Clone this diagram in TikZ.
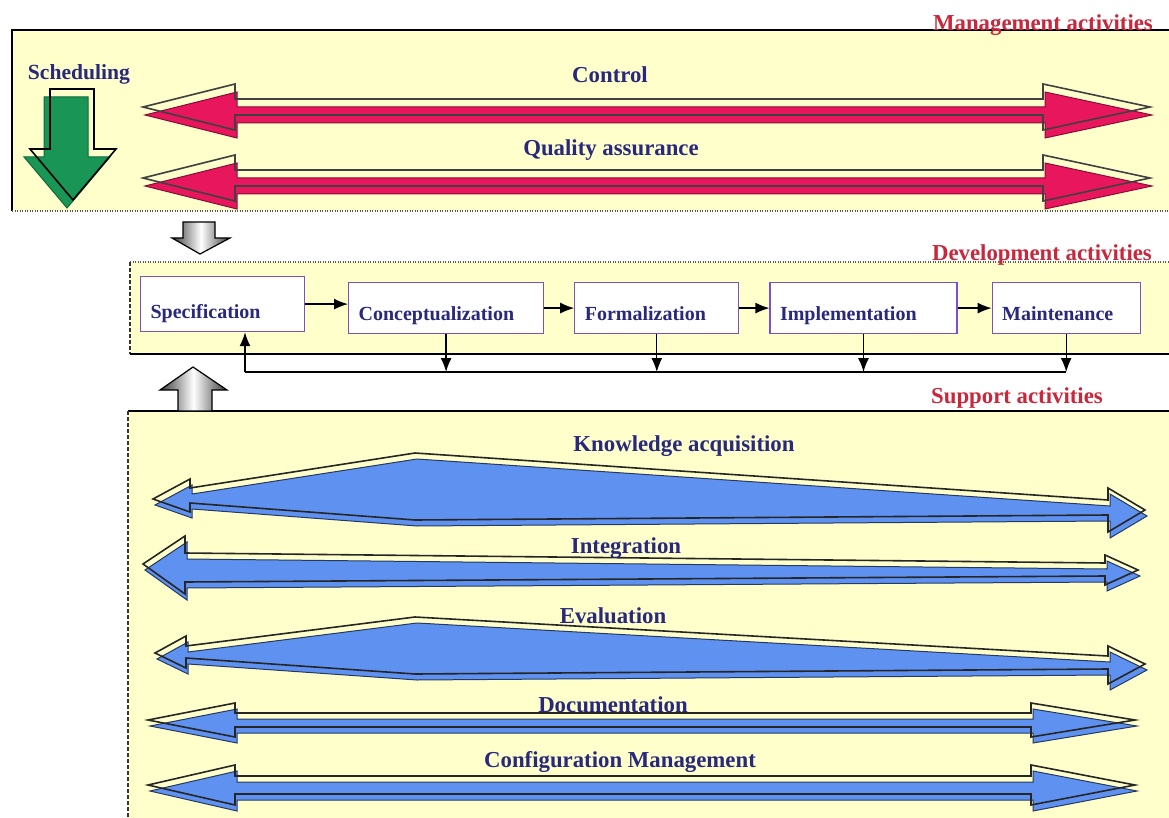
\documentclass[tikz,border=0pt]{standalone}
\usepackage{fontspec}
\setmainfont{Liberation Serif}
\usetikzlibrary{arrows.meta,positioning}

\definecolor{panelbg}{RGB}{255,255,204}
\definecolor{inkblue}{RGB}{40,40,125}
\definecolor{titlered}{RGB}{200,40,60}
\definecolor{ctrlred}{RGB}{232,22,92}
\definecolor{suppblue}{RGB}{95,145,240}
\definecolor{schedgreen}{RGB}{25,150,85}
\definecolor{boxpurple}{RGB}{125,80,195}

% filled arrow body plus its outline, drawn a little offset
\newcommand{\shadowarrow}[4][-2,-6]{%
  \fill[#2] #4;
  \draw[#3, shift={(#1)}] #4;
}

\begin{document}
\begin{tikzpicture}[
    x=1pt, y=-1pt,
    frame/.style={line width=1.5pt, black},
    dotline/.style={line width=1.5pt, black!65, dash pattern=on 1pt off 1.5pt},
    dashline/.style={line width=1.3pt, black!80, dash pattern=on 4pt off 2pt},
    actlabel/.style={font=\fontsize{22.8}{26}\selectfont\bfseries, text=inkblue, anchor=base, inner sep=0pt},
    paneltitle/.style={font=\fontsize{22.8}{26}\selectfont\bfseries, text=titlered, anchor=base east, inner sep=0pt},
    stage/.style={draw=boxpurple, line width=1.2pt, fill=white, font=\fontsize{20}{24}\selectfont\bfseries, text=inkblue,
        align=left, inner xsep=10pt, inner ysep=3pt, minimum height=51pt, text height=25pt, text depth=0pt},
    flow/.style={-{Latex[length=14pt,width=11pt]}, line width=1.3pt},
    mgmtfill/.style={fill=ctrlred, draw=ctrlred!60!black, line width=1pt},
    mgmtline/.style={draw=black!75, line width=1.6pt},
    suppfill/.style={fill=suppblue, draw=suppblue!40!black, line width=1pt},
    suppline/.style={draw=black!85, line width=1.6pt},
    schedfill/.style={fill=schedgreen, draw=schedgreen!70!black, line width=1pt},
    schedline/.style={draw=black, line width=1.6pt},
    hinge/.style={left color=gray!45!black, right color=gray!45!black, middle color=white, draw=black, line width=1.2pt}
]
\fill[white] (0,0) rectangle (1169,818);
\useasboundingbox (0,0) rectangle (1169,818);

% panels
\fill[panelbg] (12,30) rectangle (1169,211);
\draw[frame] (12,211) -- (12,30) -- (1169,30);
\draw[dotline] (12,211) -- (1169,211);

\fill[panelbg] (130,262) rectangle (1169,354);
\draw[dotline] (130,262) -- (1169,262);
\draw[dashline] (130,262) -- (130,354);
\draw[frame] (130,354) -- (1169,354);

\fill[panelbg] (128,411) rectangle (1169,818);
\draw[frame] (128,411) -- (1169,411);
\draw[dashline] (128,411) -- (128,818);

\node[paneltitle] (mgmttitle) at (1153,31) {Management activities};
\node[paneltitle] (devtitle) at (1152,261) {Development activities};
\node[paneltitle] (supptitle) at (1103,403) {Support activities};

% management activities
\shadowarrow[6,-8]{schedfill}{schedline}{(44,97) -- (88,97) -- (88,157) -- (110,157) -- (67,208) -- (24,157) -- (44,157) -- cycle}
\node[actlabel, font=\fontsize{21.6}{24}\selectfont\bfseries] (sched) at (79,80) {Scheduling};

\shadowarrow[-2,-8]{mgmtfill}{mgmtline}{(145,115) -- (237,92) -- (237,107) -- (1045,107) -- (1045,92) -- (1152,115) -- (1045,138) -- (1045,123) -- (237,123) -- (237,138) -- cycle}
\shadowarrow[-2,-8]{mgmtfill}{mgmtline}{(145,186) -- (237,163) -- (237,178) -- (1045,178) -- (1045,163) -- (1152,186) -- (1045,209) -- (1045,194) -- (237,194) -- (237,209) -- cycle}
\node[actlabel] (ctrl) at (610,83) {Control};
\node[actlabel] (qa) at (611,156) {Quality assurance};

% between the panels
\shadedraw[hinge] (183,222) -- (215,222) -- (215,238) -- (230,238) -- (200,254) -- (172,238) -- (183,238) -- cycle;
\shadedraw[hinge] (193,367) -- (227,390) -- (212,390) -- (212,411) -- (178,411) -- (178,390) -- (160,390) -- cycle;

% development activities
\node[stage, text width=144pt, minimum height=55pt, text height=29pt, anchor=north west] (spec) at (140,276) {Specification};
\node[stage, text width=175pt, anchor=north west] (conc) at (348,282) {Conceptualization};
\node[stage, text width=144pt, right=30pt of conc] (form) {Formalization};
\node[stage, text width=167pt, right=30pt of form] (impl) {Implementation};
\node[stage, text width=128pt, right=34pt of impl] (maint) {Maintenance};

\draw[flow] (spec.east) -- (spec.east -| conc.west);
\foreach \a/\b in {conc/form, form/impl, impl/maint}
    \draw[flow] (\a) -- (\b);

\coordinate (bus) at (245,372);
\foreach \s in {conc, form, impl, maint}
    \draw[flow] (\s.south) -- (\s.south |- bus);
\draw[line width=1.3pt] (bus) -- (maint.south |- bus);
\draw[flow] (bus) -- (bus |- spec.south);

% support activities
\shadowarrow{suppfill}{suppline}{(155,505) -- (192,485) -- (192,494) -- (417,459) -- (1110,506) -- (1110,494) -- (1147,516) -- (1110,538) -- (1110,521) -- (417,526) -- (192,509) -- (192,518) -- cycle}
\shadowarrow{suppfill}{suppline}{(145,570) -- (187,542) -- (187,559) -- (1107,569) -- (1107,561) -- (1140,576) -- (1107,591) -- (1107,582) -- (187,588) -- (187,600) -- cycle}
\shadowarrow{suppfill}{suppline}{(157,659) -- (188,642) -- (188,652) -- (417,623) -- (1110,662) -- (1110,652) -- (1147,670) -- (1110,690) -- (1110,675) -- (417,680) -- (188,664) -- (188,674) -- cycle}
\shadowarrow{suppfill}{suppline}{(150,726) -- (237,709) -- (237,719) -- (1033,719) -- (1033,709) -- (1137,726) -- (1033,743) -- (1033,733) -- (237,733) -- (237,743) -- cycle}
\shadowarrow{suppfill}{suppline}{(150,791) -- (237,771) -- (237,782) -- (1033,782) -- (1033,771) -- (1137,791) -- (1033,811) -- (1033,800) -- (237,800) -- (237,811) -- cycle}

\node[actlabel] (ka) at (684,451) {Knowledge acquisition};
\node[actlabel] (integ) at (626,553) {Integration};
\node[actlabel] (evalu) at (613,623) {Evaluation};
\node[actlabel] (docu) at (613,712) {Documentation};
\node[actlabel] (config) at (620,767) {Configuration Management};
\end{tikzpicture}
\end{document}
